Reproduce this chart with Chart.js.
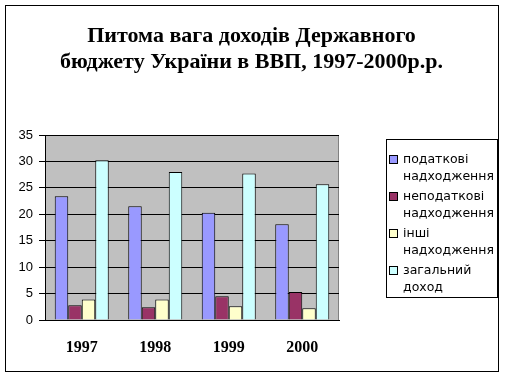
<!DOCTYPE html>
<html>
<head>
<meta charset="utf-8">
<script src="https://cdn.jsdelivr.net/npm/chart.js@4/dist/chart.umd.min.js"></script>
<style>
  html, body { margin: 0; padding: 0; background: #fff; }
  #wrap { position: relative; width: 505px; height: 379px; }
  #frame { position: absolute; left: 5px; top: 5px; width: 494px; height: 367px; border: 1px solid #000; box-sizing: border-box; pointer-events: none; }
  canvas { position: absolute; left: 0; top: 0; }
  #title { position: absolute; left: 0; top: 22px; width: 503px; text-align: center;
    font-family: "Liberation Serif", "Times New Roman", serif; font-weight: bold; font-size: 22px; line-height: 26px; color: #000; }
  #legend { position: absolute; left: 386px; top: 139px; width: 112px; height: 159px; border: 1px solid #000; box-sizing: border-box; background: #fff;
    font-family: "DejaVu Sans", sans-serif; font-size: 12.5px; color: #000; }
  .item { position: absolute; left: 0; }
  .box { position: absolute; left: 2px; top: 5px; width: 9px; height: 9px; border: 1px solid #000; box-sizing: border-box; }
  .txt { position: absolute; left: 16px; top: 0; line-height: 17px; white-space: nowrap; }
</style>
</head>
<body>
<div id="wrap">
  <canvas id="c" width="505" height="379"></canvas>
  <div id="frame"></div>
  <div id="title"></div>
  <div id="legend"></div>
</div>
<script>
const titleLines = ["Питома вага доходів Державного", "бюджету України в ВВП, 1997-2000р.р."];
const years = ["1997", "1998", "1999", "2000"];
const seriesNames = [["податкові", "надходження"], ["неподаткові", "надходження"], ["інші", "надходження"], ["загальний", "доход"]];
const taxRevenue = [23.4, 21.5, 20.3, 18.1];
const nonTaxRevenue = [2.8, 2.4, 4.5, 5.3];
const otherRevenue = [3.9, 3.9, 2.6, 2.2];
const totalRevenue = [30.2, 28.0, 27.7, 25.7];
const yTicks = [0, 5, 10, 15, 20, 25, 30, 35];
const colors = ["#9999ff", "#993366", "#ffffcc", "#ccffff"];

const values = [taxRevenue, nonTaxRevenue, otherRevenue, totalRevenue];

document.getElementById('title').innerHTML = titleLines.join('<br>');

const plotBg = {
  id: 'plotBg',
  beforeDraw(chart) {
    const {ctx, chartArea: a} = chart;
    ctx.save();
    ctx.fillStyle = '#fff';
    ctx.fillRect(0, 0, chart.width, chart.height);
    ctx.fillStyle = '#c0c0c0';
    ctx.fillRect(a.left, a.top, a.right - a.left, a.bottom - a.top);
    ctx.strokeStyle = '#808080';
    ctx.lineWidth = 1;
    ctx.beginPath();
    ctx.moveTo(a.right - 0.5, a.top);
    ctx.lineTo(a.right - 0.5, a.bottom);
    ctx.stroke();
    ctx.restore();
  }
};

const chart = new Chart(document.getElementById('c'), {
  type: 'bar',
  data: {
    labels: years,
    datasets: values.map((v, i) => ({
      label: seriesNames[i].join(' '),
      data: v,
      backgroundColor: colors[i],
      borderColor: '#000',
      borderWidth: 1,
      categoryPercentage: 0.735,
      barPercentage: 1.0
    }))
  },
  options: {
    responsive: false,
    animation: false,
    devicePixelRatio: 1,
    layout: { padding: { top: 135, left: 0, right: 166, bottom: 22 } },
    plugins: {
      legend: { display: false },
      tooltip: { enabled: false },
      title: { display: false }
    },
    scales: {
      x: {
        afterFit(scale) { scale.height = 37; },
        grid: { display: false, drawTicks: false },
        border: { display: true, color: '#000', width: 1 },
        ticks: {
          color: '#000',
          padding: 18,
          maxRotation: 0,
          font: { family: '"Liberation Serif", "Times New Roman", serif', size: 16, weight: 'bold' }
        }
      },
      y: {
        min: 0, max: 35,
        afterFit(scale) { scale.width = 45; },
        afterBuildTicks(scale) { scale.ticks = yTicks.map(v => ({ value: v })); },
        grid: { color: '#000', lineWidth: 1, tickLength: 6, drawTicks: true },
        border: { display: true, color: '#000', width: 1 },
        ticks: {
          color: '#000',
          padding: 6,
          font: { family: '"Liberation Sans", Arial, sans-serif', size: 13 }
        }
      }
    }
  },
  plugins: [plotBg]
});

// HTML legend built from the chart's datasets
const legendEl = document.getElementById('legend');
const itemTops = [10, 47, 84, 121];
chart.data.datasets.forEach((ds, i) => {
  const item = document.createElement('div');
  item.className = 'item';
  item.style.top = itemTops[i] + 'px';
  const box = document.createElement('div');
  box.className = 'box';
  box.style.background = ds.backgroundColor;
  const txt = document.createElement('div');
  txt.className = 'txt';
  txt.innerHTML = seriesNames[i].join('<br>');
  item.appendChild(box);
  item.appendChild(txt);
  legendEl.appendChild(item);
});
</script>
</body>
</html>
